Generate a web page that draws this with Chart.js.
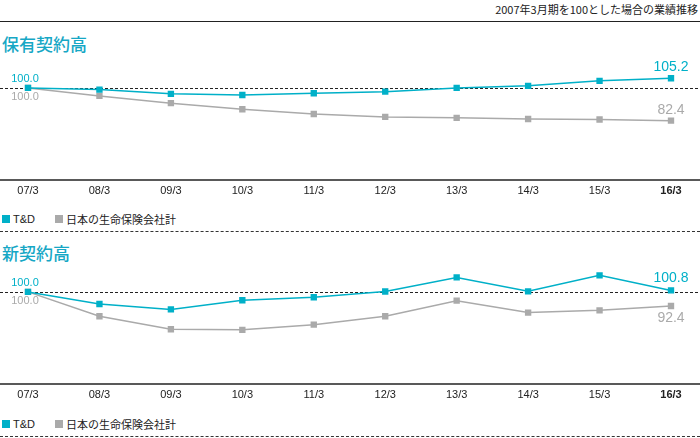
<!DOCTYPE html>
<html>
<head>
<meta charset="utf-8">
<script src="https://cdn.jsdelivr.net/npm/chart.js@4"></script>
<style>
  body { margin: 0; width: 700px; height: 438px; position: relative; overflow: hidden; background: #fff;
         font-family: "Liberation Sans", "Noto Sans CJK JP", sans-serif; color: #222; }
  .note { position: absolute; right: 2px; top: 1px; font-size: 11px; font-family: "Noto Sans CJK JP", sans-serif; }
  .rule { position: absolute; left: 0; width: 700px; border-top: 1.5px solid #222; }
  .dash { position: absolute; left: 0; width: 700px; border-top: 1px dashed #333; }
  .head { position: absolute; left: 2px; font-size: 17px; color: #16a7c5; font-family: "Noto Sans CJK JP", sans-serif; font-weight: 500; }
  .legend { position: absolute; left: 2px; font-size: 11px; display: flex; align-items: center; }
  .legend span.sw { display: inline-block; width: 8px; height: 8px; margin-right: 3px; }
  .legend span.txt { margin-right: 20px; font-family: "Liberation Sans", "Noto Sans CJK JP", sans-serif; }
  canvas { position: absolute; left: 0; }
</style>
</head>
<body>
<div class="note">2007年3月期を100とした場合の業績推移</div>
<div class="rule" style="top:21px"></div>
<div class="head" style="top:31px">保有契約高</div>
<canvas id="c1" width="700" height="150" style="top:50px"></canvas>
<div class="legend" style="top:211px"><span class="sw" style="background:#00b0c8"></span><span class="txt">T&amp;D</span><span class="sw" style="background:#aaaaaa"></span><span class="txt">日本の生命保険会社計</span></div>
<div class="dash" style="top:231px"></div>
<div class="head" style="top:240px">新契約高</div>
<canvas id="c2" width="700" height="150" style="top:254px"></canvas>
<div class="legend" style="top:416px"><span class="sw" style="background:#00b0c8"></span><span class="txt">T&amp;D</span><span class="sw" style="background:#aaaaaa"></span><span class="txt">日本の生命保険会社計</span></div>
<div class="dash" style="top:436px"></div>

<script>
  // データ(2007年3月期 = 100)
  const labels = ["07/3", "08/3", "09/3", "10/3", "11/3", "12/3", "13/3", "14/3", "15/3", "16/3"];
  // 保有契約高
  const holdTD = [100.0, 99.1, 96.8, 96.2, 97.1, 98.0, 100.0, 101.1, 103.8, 105.2];
  const holdJP = [100.0, 95.7, 91.8, 88.5, 86.0, 84.4, 83.9, 83.3, 83.0, 82.4];
  // 新契約高
  const newTD = [100.0, 93.5, 90.6, 95.5, 97.1, 100.2, 107.8, 100.3, 108.9, 100.8];
  const newJP = [100.0, 86.9, 79.9, 79.6, 82.4, 86.9, 95.3, 88.9, 90.1, 92.4];

  const TEAL = "#00b0c8";
  const GRAY = "#aaaaaa";

  // 100 の点線と下の軸線(全幅)
  const refLines = {
    id: "refLines",
    beforeDatasetsDraw(chart) {
      const ctx = chart.ctx;
      const y = Math.round(chart.scales.y.getPixelForValue(100)) + 0.5;
      ctx.save();
      ctx.strokeStyle = "#222";
      ctx.lineWidth = 1;
      ctx.setLineDash([3, 2]);
      ctx.beginPath();
      ctx.moveTo(0, y);
      ctx.lineTo(chart.width, y);
      ctx.stroke();
      ctx.setLineDash([]);
      ctx.lineWidth = 1.5;
      const b = chart.chartArea.bottom;
      ctx.beginPath();
      ctx.moveTo(0, b);
      ctx.lineTo(chart.width, b);
      ctx.stroke();
      ctx.restore();
    }
  };

  // 始点・終点の数値ラベル
  const endLabels = {
    id: "endLabels",
    afterDatasetsDraw(chart, args, opts) {
      const ctx = chart.ctx;
      ctx.save();
      ctx.textAlign = "center";
      ctx.textBaseline = "middle";
      chart.data.datasets.forEach((ds, i) => {
        const pts = chart.getDatasetMeta(i).data;
        const off = opts.offsets[i];
        const first = pts[0], last = pts[pts.length - 1];
        ctx.fillStyle = ds.borderColor;
        ctx.font = "11px 'Liberation Sans', sans-serif";
        ctx.fillText(ds.data[0].toFixed(1), first.x - 3, first.y + off[0]);
        ctx.font = "14px 'Liberation Sans', sans-serif";
        ctx.fillText(ds.data[ds.data.length - 1].toFixed(1), last.x, last.y + off[1]);
      });
      ctx.restore();
    }
  };

  function makeChart(id, td, jp, offsets) {
    return new Chart(document.getElementById(id), {
      type: "line",
      data: {
        labels: labels,
        datasets: [
          { label: "T&D", data: td, borderColor: TEAL, backgroundColor: TEAL, borderWidth: 1.5,
            pointStyle: "rect", pointRadius: 4.5, pointBorderWidth: 0, tension: 0 },
          { label: "日本の生命保険会社計", data: jp, borderColor: GRAY, backgroundColor: GRAY, borderWidth: 1.5,
            pointStyle: "rect", pointRadius: 4.5, pointBorderWidth: 0, tension: 0 }
        ]
      },
      options: {
        responsive: false,
        animation: false,
        layout: { padding: { top: 10, left: 28, right: 29, bottom: 0 } },
        plugins: {
          legend: { display: false },
          tooltip: { enabled: false },
          endLabels: { offsets: offsets }
        },
        scales: {
          x: {
            offset: false,
            grid: { display: false, drawTicks: false },
            border: { display: false },
            afterFit(scale) { scale.height = 20; },
            ticks: {
              padding: 4,
              maxRotation: 0,
              autoSkip: false,
              color: "#222",
              font: (c) => ({ family: "'Liberation Sans', sans-serif", size: 11,
                               weight: c.index === labels.length - 1 ? "bold" : "normal" })
            }
          },
          y: { display: false, min: 50.5, max: 115 }
        }
      },
      plugins: [refLines, endLabels]
    });
  }

  makeChart("c1", holdTD, holdJP, [[-9, -11], [9, -11]]);
  makeChart("c2", newTD, newJP, [[-9, -12], [9, 12]]);
</script>
</body>
</html>
